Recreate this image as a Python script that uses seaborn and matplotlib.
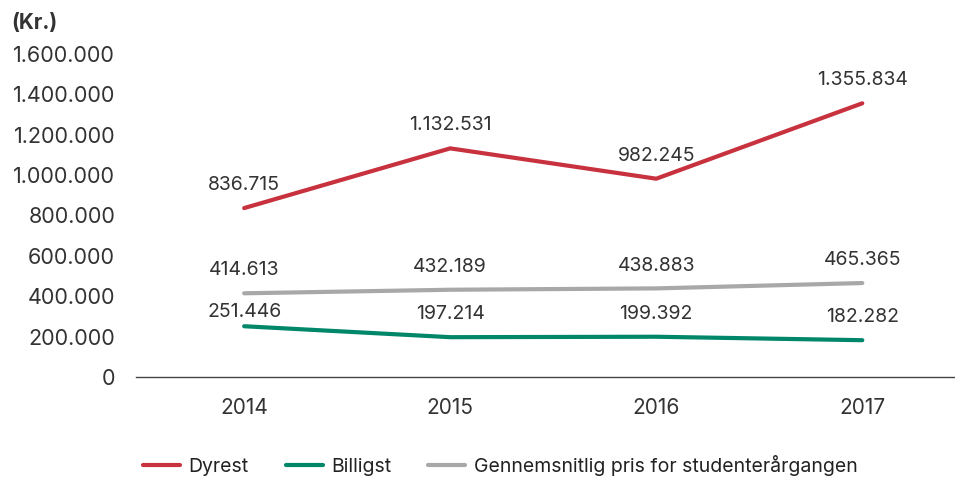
import pandas as pd
import seaborn as sns
import matplotlib.pyplot as plt
from matplotlib.ticker import FuncFormatter

years = ['2014', '2015', '2016', '2017']
dyrest = [836715, 1132531, 982245, 1355834]
billigst = [251446, 197214, 199392, 182282]
gennemsnit = [414613, 432189, 438883, 465365]

series_names = ['Dyrest', 'Billigst', 'Gennemsnitlig pris for studenterårgangen']
colors = ['#C8323F', '#00876A', '#A8A8A8']

df = pd.DataFrame({
    'År': years * 3,
    'Pris': dyrest + billigst + gennemsnit,
    'Serie': [series_names[0]] * 4 + [series_names[1]] * 4 + [series_names[2]] * 4,
})

sns.set_style('white')
plt.rcParams['font.family'] = ['Inter', 'DejaVu Sans']

def dk(v):
    return f'{int(round(v)):,}'.replace(',', '.')

fig = plt.figure(figsize=(9.55, 4.8), dpi=100)
ax = fig.add_axes([0.1424, 0.2146, 0.8576, 0.6729])

sns.lineplot(data=df, x='År', y='Pris', hue='Serie', palette=colors,
             hue_order=series_names, linewidth=3, ax=ax, legend=False, sort=False)

for vals in [dyrest, billigst, gennemsnit]:
    for i, v in enumerate(vals):
        # the first "Billigst" label sits closer to its line (gray line above it)
        off = 4 if vals is billigst and i == 0 else 10
        ax.annotate(dk(v), (i, v), xytext=(0, off), textcoords='offset points',
                    ha='center', va='bottom', fontsize=14, color='#333333')

ax.set_ylim(0, 1600000)
ax.set_xlim(-0.525, 3.45)
ax.set_yticks(range(0, 1600001, 200000))
ax.yaxis.set_major_formatter(FuncFormatter(lambda v, p: dk(v)))
ax.tick_params(axis='y', length=0, pad=15, labelsize=15.5, labelcolor='#333333')
ax.tick_params(axis='x', length=0, pad=15, labelsize=15, labelcolor='#333333')
ax.set_xlabel('')
ax.set_ylabel('')
for s in ['top', 'right', 'left']:
    ax.spines[s].set_visible(False)
ax.spines['bottom'].set_color('#444444')
ax.spines['bottom'].set_linewidth(1)

fig.text(0.012, 0.94, '(Kr.)', fontsize=15, fontweight='bold', color='#333333')

handles = [plt.Line2D([0], [0], color=c, lw=3) for c in colors]
fig.legend(handles, series_names, loc='center', bbox_to_anchor=(0.524, 0.03), ncol=3,
           frameon=False, fontsize=14, handlelength=1.9, handletextpad=0.45,
           columnspacing=1.9, labelcolor='#222222')

fig.savefig('out.png', dpi=100)
